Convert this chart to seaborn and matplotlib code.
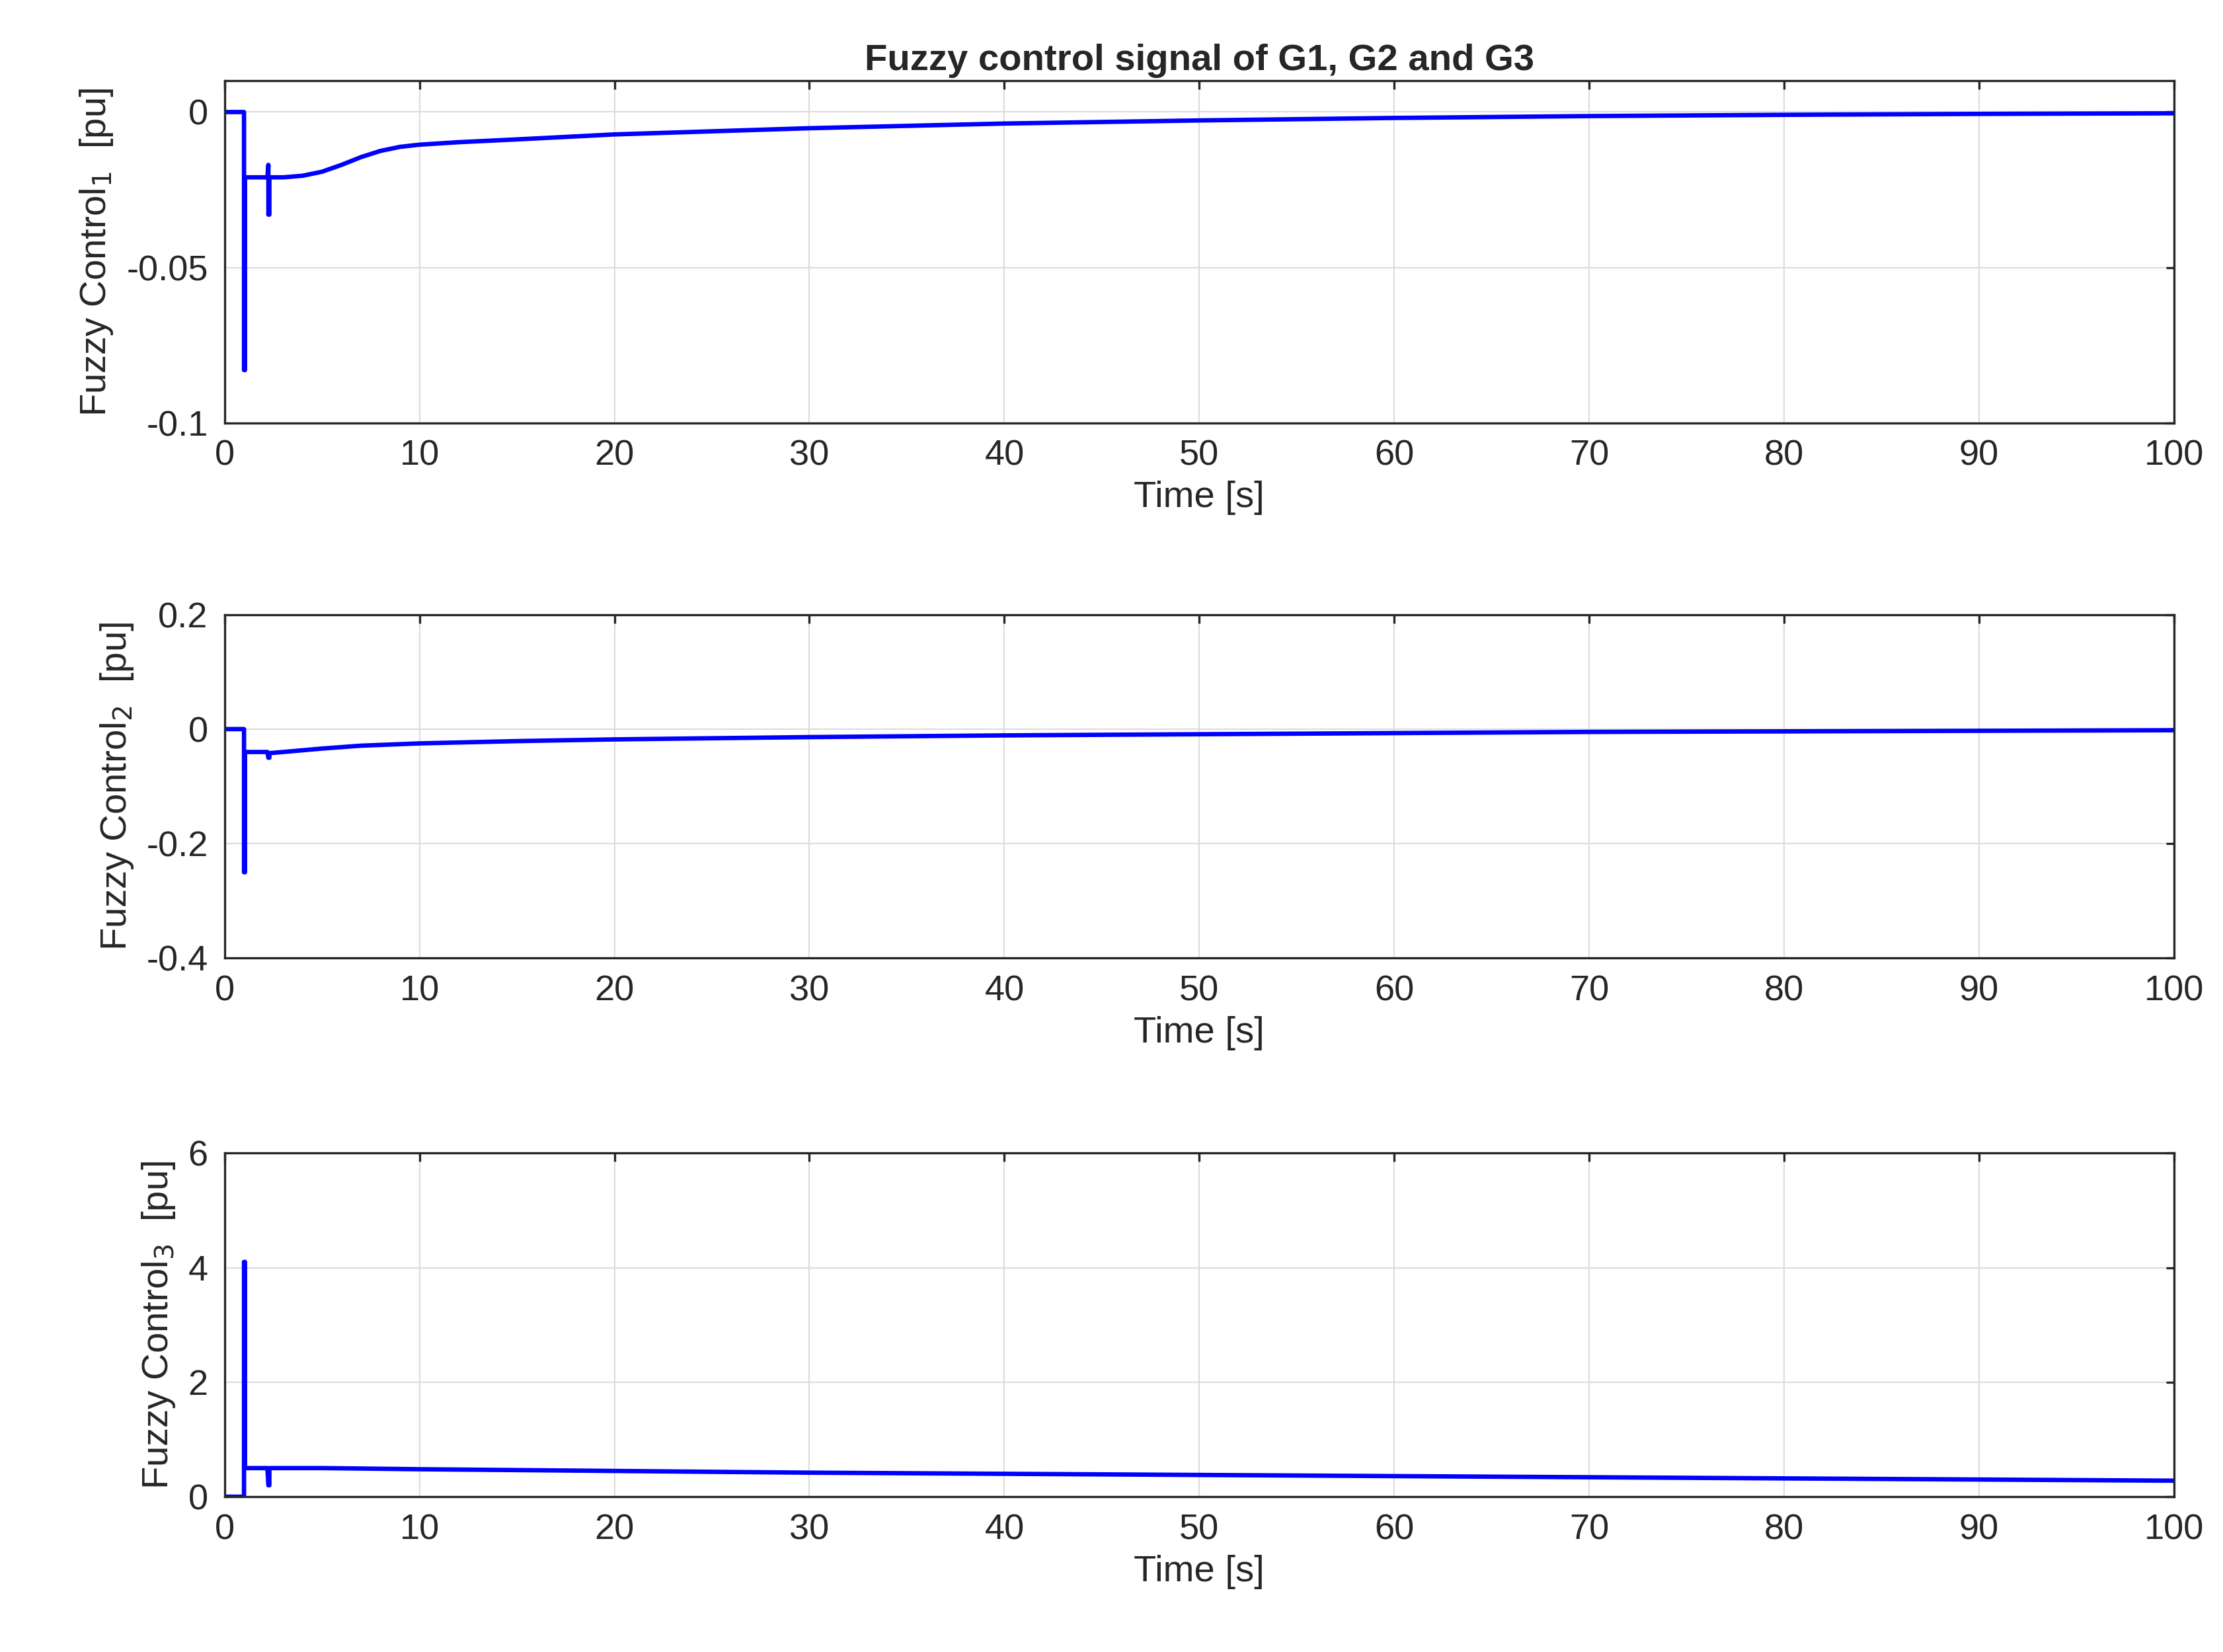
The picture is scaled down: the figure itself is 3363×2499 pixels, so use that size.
import numpy as np
import pandas as pd
import matplotlib
matplotlib.use("Agg")
import matplotlib.pyplot as plt
import seaborn as sns

sns.set_style("white")
plt.rcParams['font.family'] = ['Liberation Sans', 'DejaVu Sans']

t1 = [0, 1.0, 1.0, 1.05, 1.05, 1.2, 2.2, 2.25, 2.25, 2.3, 2.3, 3, 4, 5, 6, 7, 8, 9, 10, 12, 15, 20, 30, 40, 50, 60, 70, 80, 90, 100]
y1 = [0, 0, -0.083, -0.083, -0.021, -0.021, -0.021, -0.017, -0.033, -0.033, -0.021, -0.021, -0.0205, -0.0192, -0.017, -0.0145, -0.0125, -0.0112, -0.0105, -0.0097, -0.0088, -0.0072, -0.0052, -0.0037, -0.0027, -0.0019, -0.0013, -0.0009, -0.0006, -0.0004]
t2 = [0, 1.0, 1.0, 1.05, 1.05, 1.2, 2.2, 2.25, 2.3, 2.3, 3, 5, 7, 10, 15, 20, 30, 40, 50, 60, 70, 80, 90, 100]
y2 = [0, 0, -0.25, -0.25, -0.04, -0.04, -0.04, -0.05, -0.05, -0.042, -0.04, -0.034, -0.029, -0.025, -0.021, -0.018, -0.014, -0.011, -0.009, -0.007, -0.005, -0.004, -0.003, -0.002]
t3 = [0, 1.0, 1.0, 1.05, 1.05, 1.2, 2.2, 2.25, 2.3, 2.3, 3, 5, 10, 20, 30, 40, 50, 60, 70, 80, 90, 100]
y3 = [0, 0, 4.1, 4.1, 0.5, 0.5, 0.5, 0.2, 0.2, 0.5, 0.5, 0.5, 0.48, 0.45, 0.42, 0.40, 0.38, 0.36, 0.34, 0.32, 0.30, 0.28]

series = [(t1, y1, (-0.1, 0.01), [-0.1, -0.05, 0], ['-0.1', '-0.05', '0'], '1'),
          (t2, y2, (-0.4, 0.2), [-0.4, -0.2, 0, 0.2], ['-0.4', '-0.2', '0', '0.2'], '2'),
          (t3, y3, (0, 6), [0, 2, 4, 6], ['0', '2', '4', '6'], '3')]

fig = plt.figure(figsize=(3363/300, 2499/300), dpi=300)
bounds = [(0.744, 0.951), (0.420, 0.628), (0.094, 0.302)]
for i, ((t, y, yl, yt, ytl, sub), (b, tp)) in enumerate(zip(series, bounds)):
    ax = fig.add_axes([0.101, b, 0.877, tp - b])
    df = pd.DataFrame({'t': t, 'y': y})
    sns.lineplot(data=df, x='t', y='y', ax=ax, sort=False, estimator=None, color='#0000ff', linewidth=1.6)
    ax.set_xlim(0, 100)
    ax.set_ylim(*yl)
    ax.set_xticks(range(0, 101, 10))
    ax.set_yticks(yt)
    ax.set_yticklabels(ytl)
    ax.grid(True, color='#dcdcdc', linewidth=0.5)
    ax.tick_params(labelsize=13, direction='in', length=3, top=True, right=True, pad=6)
    for s in ax.spines.values():
        s.set_linewidth(0.8); s.set_color('#262626')
    ax.set_xlabel('Time [s]', fontsize=13.5, labelpad=3)
    ax.set_ylabel(r'Fuzzy Control$_{%s}$  [pu]' % sub, fontsize=13.5)
    if i == 0:
        ax.set_title('Fuzzy control signal of G1, G2 and G3', fontsize=13.5, fontweight='bold', pad=4)

fig.savefig('out.png', dpi=300)
